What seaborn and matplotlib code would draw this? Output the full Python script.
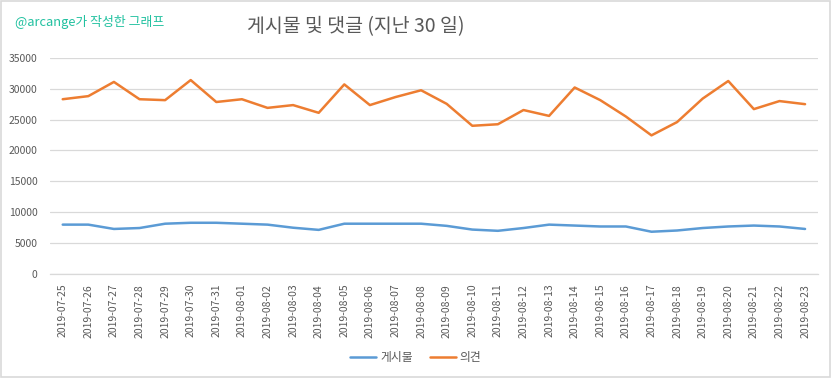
import pandas as pd
import matplotlib
matplotlib.use("Agg")
import matplotlib.pyplot as plt
import seaborn as sns

# values
dates = [
    "2019-07-25", "2019-07-26", "2019-07-27", "2019-07-28", "2019-07-29",
    "2019-07-30", "2019-07-31", "2019-08-01", "2019-08-02", "2019-08-03",
    "2019-08-04", "2019-08-05", "2019-08-06", "2019-08-07", "2019-08-08",
    "2019-08-09", "2019-08-10", "2019-08-11", "2019-08-12", "2019-08-13",
    "2019-08-14", "2019-08-15", "2019-08-16", "2019-08-17", "2019-08-18",
    "2019-08-19", "2019-08-20", "2019-08-21", "2019-08-22", "2019-08-23",
]
posts = [
    8000, 8000, 7300, 7450, 8150, 8300, 8300, 8150, 8000, 7500,
    7150, 8150, 8150, 8150, 8150, 7800, 7200, 7000, 7450, 8000,
    7850, 7700, 7700, 6850, 7050, 7450, 7700, 7850, 7700, 7300,
]
comments = [
    28300, 28800, 31100, 28300, 28150, 31400, 27850, 28300, 26900, 27350,
    26100, 30700, 27350, 28650, 29750, 27550, 24000, 24250, 26550, 25600,
    30200, 28150, 25500, 22450, 24600, 28400, 31250, 26700, 28000, 27500,
]
series_names = ["게시물", "의견"]
yticks = [0, 5000, 10000, 15000, 20000, 25000, 30000, 35000]

df = pd.DataFrame({
    "date": dates * 2,
    "value": posts + comments,
    "series": [series_names[0]] * len(dates) + [series_names[1]] * len(dates),
})

sns.set_style("white")
plt.rcParams["font.family"] = ["Noto Sans CJK KR", "DejaVu Sans"]

text_color = "#595959"
grid_color = "#d9d9d9"
colors = ["#5B9BD5", "#ED7D31"]

fig = plt.figure(figsize=(8.32, 3.78), dpi=100)
ax = fig.add_axes([0.060, 0.275, 0.923, 0.572])

sns.lineplot(
    data=df, x="date", y="value", hue="series", sort=False,
    palette=colors, linewidth=1.8, ax=ax, legend=False,
)

ax.set_xlim(-0.5, len(dates) - 0.5)
ax.set_ylim(0, 35000)
ax.set_yticks(yticks)
ax.set_yticklabels([str(t) for t in yticks])
ax.set_xticks(range(len(dates)))
ax.set_xticklabels(dates, rotation=90)
ax.tick_params(axis="both", length=0, labelsize=7.5, colors=text_color)
ax.tick_params(axis="y", pad=9)
ax.tick_params(axis="x", pad=7)
ax.yaxis.grid(True, color=grid_color, linewidth=0.9)
ax.set_axisbelow(True)
for side in ["top", "left", "right"]:
    ax.spines[side].set_visible(False)
ax.spines["bottom"].set_color(grid_color)
ax.spines["bottom"].set_linewidth(0.9)
ax.set_xlabel("")
ax.set_ylabel("")

# legend at the bottom
handles = [plt.Line2D([], [], color=c, linewidth=1.8) for c in colors]
fig.legend(handles, series_names, loc="center", bbox_to_anchor=(0.5, 0.053),
           ncol=2, frameon=False, fontsize=8.5, labelcolor=text_color,
           handlelength=2.2, handletextpad=0.3, columnspacing=1.5)

fig.text(0.428, 0.929, "게시물 및 댓글 (지난 30 일)", ha="center", va="center",
         fontsize=14, color=text_color)
fig.text(0.018, 0.942, "@arcange가 작성한 그래프", ha="left", va="center",
         fontsize=9.3, color="#22c1a0")

# outer chart border
fig.patches.append(plt.Rectangle((0.001, 0.002), 0.996, 0.995, transform=fig.transFigure,
                                 fill=False, edgecolor=grid_color, linewidth=1.2))

fig.savefig("out.png", dpi=100)
